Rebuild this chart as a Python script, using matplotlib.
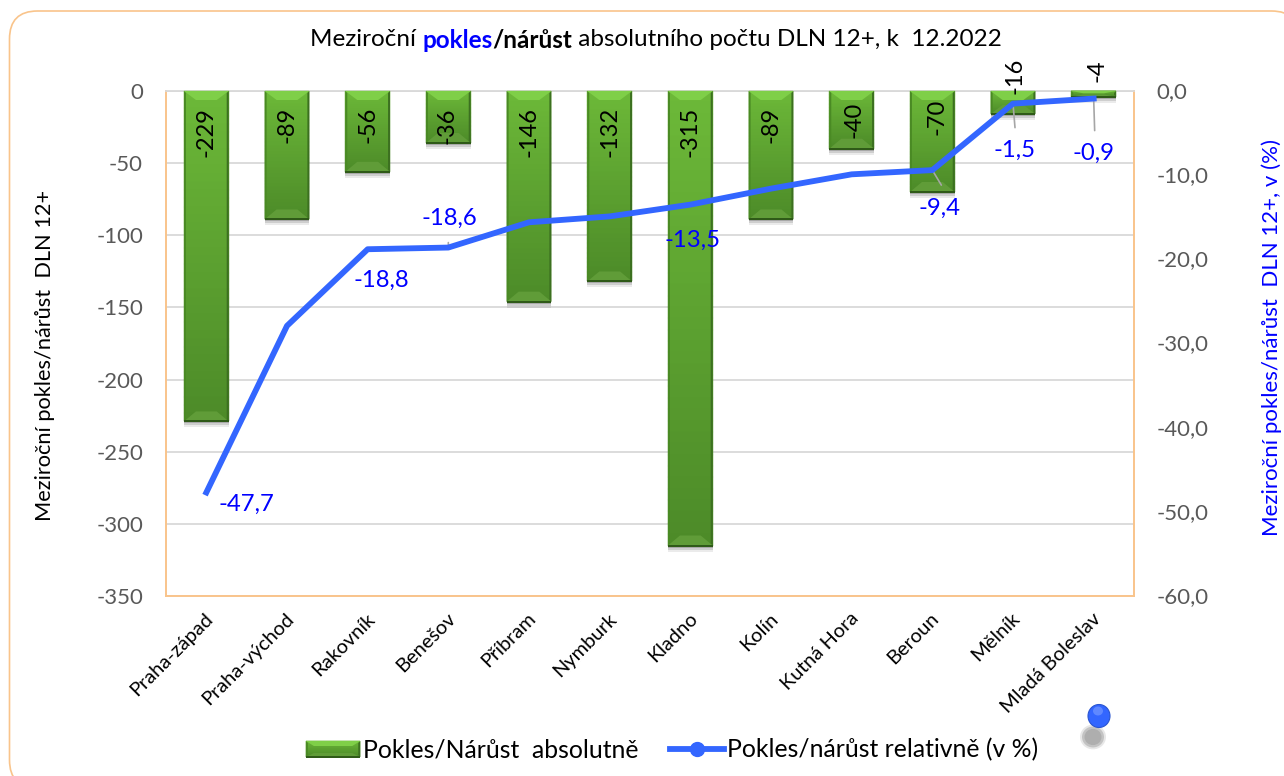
import numpy as np
import matplotlib
matplotlib.use('Agg')
import matplotlib.pyplot as plt
from matplotlib.legend_handler import HandlerLine2D
from matplotlib.lines import Line2D
from matplotlib.patches import FancyBboxPatch, Patch, Polygon, Ellipse
from matplotlib.transforms import IdentityTransform, ScaledTranslation

plt.rcParams['font.family'] = ['Lato', 'DejaVu Sans']
plt.rcParams['axes.unicode_minus'] = False

# data
okresy = ['Praha-západ', 'Praha-východ', 'Rakovník', 'Benešov', 'Příbram', 'Nymburk',
          'Kladno', 'Kolín', 'Kutná Hora', 'Beroun', 'Mělník', 'Mladá Boleslav']
absolutne = [-229, -89, -56, -36, -146, -132, -315, -89, -40, -70, -16, -4]
relativne = [-47.7, -27.9, -18.8, -18.6, -15.6, -14.9, -13.5, -11.6, -9.9, -9.4, -1.5, -0.9]
popisky_rel = {0: '-47,7', 2: '-18,8', 3: '-18,6', 6: '-13,5', 9: '-9,4', 10: '-1,5', 11: '-0,9'}
ticks_abs = [0, -50, -100, -150, -200, -250, -300, -350]
ticks_rel = [0, -10, -20, -30, -40, -50, -60]
ticks_rel_txt = ['0,0', '-10,0', '-20,0', '-30,0', '-40,0', '-50,0', '-60,0']

# posuny popisku v pixelech (x, y od nuly / od bodu)
posun_abs = [(0, -16), (0, -16), (0, -16), (-1, -16), (0, -16), (0, -16), (0, -16), (0, -16),
             (2, -11), (5, -8), (2, 33), (3, 31)]
posun_rel = {0: (40, -12), 2: (14, -31), 3: (1, 29), 6: (2, -36), 9: (7, -38), 10: (2, -47), 11: (0, -55)}
vodice = {3: (0, 5), 9: (9, -15), 10: (2, -24), 11: (1, -32)}

W, H = 1284, 776
MODRA = '#3366FF'
fig = plt.figure(figsize=(W / 100, H / 100), dpi=100)
fig.patch.set_facecolor('white')

# ramecek grafu
ramecek = FancyBboxPatch((9.5, H - 788), 1290, 777, transform=IdentityTransform(),
                         boxstyle='round,pad=0,rounding_size=28',
                         fc='white', ec='#F9C48B', lw=1.2, zorder=-5)
fig.add_artist(ramecek)

ax = fig.add_axes([166 / W, 1 - 596 / H, 968 / W, 505 / H])
ax.patch.set_alpha(0)
x = np.arange(len(okresy))
bars = ax.bar(x, absolutne, width=0.555, color='#5B9E2E', zorder=2)
ax.set_xlim(-0.5, 11.5)
ax.set_ylim(-350, 0)
ax.set_yticks(ticks_abs)
ax.set_xticks(x)
ax.set_xticklabels(okresy, rotation=45, ha='right', rotation_mode='anchor', fontsize=14.4, color='black')
ax.tick_params(axis='both', length=0)
ax.tick_params(axis='y', labelsize=16, labelcolor='#595959', pad=16.5)
ax.tick_params(axis='x', pad=10)
posun = ScaledTranslation(-2 / 100, 0, fig.dpi_scale_trans)
for lbl in ax.get_xticklabels():
    lbl.set_transform(lbl.get_transform() + posun)
ax.grid(axis='y', color='#D9D9D9', lw=1.3, zorder=0)
ax.set_axisbelow(True)
for s in ['left', 'right', 'bottom']:
    ax.spines[s].set_color('#F9C48B')
    ax.spines[s].set_linewidth(1.4)
ax.spines['top'].set_color('#D9D9D9')
ax.spines['top'].set_linewidth(1.3)


def bevel(a, x0, x1, y0, y1, bx, by_top, by_bot, z=3, stin=True):
    # x0..y1 jsou pixely, y1 je horni hrana
    t = IdentityTransform()
    if stin:
        for k, al in [(6, 0.08), (4, 0.12), (2, 0.18)]:
            a.add_patch(Polygon([(x0, y0), (x1, y0), (x1, y0 - k), (x0, y0 - k)],
                                fc='black', ec='none', alpha=al, transform=t, zorder=z, clip_on=False))
    n = 40
    ys = np.linspace(y1, y0, n + 1)
    c_a = np.array(matplotlib.colors.to_rgb('#6CB838'))
    c_b = np.array(matplotlib.colors.to_rgb('#4C8A28'))
    for i in range(n):
        c = c_a + (c_b - c_a) * i / n
        a.add_patch(Polygon([(x0, ys[i]), (x1, ys[i]), (x1, ys[i + 1]), (x0, ys[i + 1])],
                            fc=c, ec=c, lw=0.3, transform=t, zorder=z, clip_on=False))
    a.add_patch(Polygon([(x0, y1), (x1, y1), (x1 - bx, y1 - by_top), (x0 + bx, y1 - by_top)],
                        fc='#7FCF48', ec='none', transform=t, zorder=z, clip_on=False))
    a.add_patch(Polygon([(x0, y0), (x1, y0), (x1 - bx, y0 + by_bot), (x0 + bx, y0 + by_bot)],
                        fc='#609C38', ec='none', transform=t, zorder=z, clip_on=False))
    a.add_patch(Polygon([(x0, y0), (x0, y1), (x0 + 2, y1 - 2), (x0 + 2, y0 + 2)],
                        fc='#4A8A24', ec='none', transform=t, zorder=z, clip_on=False))
    a.add_patch(Polygon([(x1, y0), (x1, y1), (x1 - 2, y1 - 2), (x1 - 2, y0 + 2)],
                        fc='#3C7020', ec='none', transform=t, zorder=z, clip_on=False))
    a.add_patch(Polygon([(x0, y0 - 1), (x1, y0 - 1), (x1, y0 + 1), (x0, y0 + 1)],
                        fc='#2F5A18', ec='none', transform=t, zorder=z, clip_on=False))


for b in bars:
    (px0, py0), (px1, py1) = ax.transData.transform(
        [(b.get_x(), b.get_y() + b.get_height()), (b.get_x() + b.get_width(), b.get_y())])
    vyska = py1 - py0
    bevel(ax, px0, px1, py0, py1, 12, min(9, vyska * 0.4), min(10, vyska * 0.4))

ax2 = ax.twinx()
ax2.patch.set_alpha(0)
ax2.plot(x, relativne, color=MODRA, lw=4.2, solid_joinstyle='round', zorder=5)
ax2.set_ylim(-60, 0)
ax2.set_yticks(ticks_rel)
ax2.set_yticklabels(ticks_rel_txt, fontsize=16, color='#595959')
ax2.tick_params(axis='y', length=0, pad=16)
posun_y = ScaledTranslation(0, 1 / 100, fig.dpi_scale_trans)
for lbl in ax2.get_yticklabels():
    lbl.set_transform(lbl.get_transform() + posun_y)
for s in ax2.spines.values():
    s.set_visible(False)

# popisky sloupcu
for i, v in enumerate(absolutne):
    ax2.annotate(str(v), xy=(i, 0), xytext=posun_abs[i],
                 textcoords='offset pixels', rotation=90, ha='center', va='top',
                 fontsize=17, color='black', zorder=6, annotation_clip=False)

# popisky relativnich hodnot
for i, txt in popisky_rel.items():
    ax2.annotate(txt, xy=(i, relativne[i]), xytext=posun_rel[i], textcoords='offset pixels',
                 ha='center', va='center', fontsize=17.2, color='#0000FF', zorder=6)
    if i in vodice:
        ax2.annotate('', xy=(i, relativne[i]), xytext=vodice[i], textcoords='offset pixels',
                     arrowprops=dict(arrowstyle='-', color='#A6A6A6', lw=1.2, shrinkA=0, shrinkB=0), zorder=4)

# nazvy os
fig.text(45 / W, 1 - 355 / H, 'Meziroční pokles/nárůst  DLN 12+', rotation=90, ha='center', va='center',
         fontsize=15.7, color='black')
fig.text(1272 / W, 1 - 337 / H, 'Meziroční pokles/nárůst  DLN 12+, v (%)', rotation=90, ha='center',
         va='center', fontsize=16, color='#0000FF')

# titulek po castech
casti = [('Meziroční ', 'normal', 'black'), ('pokles', 'bold', '#0000FF'), ('/nárůst', 'bold', 'black'),
         (' absolutního počtu DLN 12+, k  12.2022', 'normal', 'black')]
r = fig.canvas.get_renderer()
tx = 310
for txt, w, c in casti:
    t = fig.text(tx / W, 1 - 40 / H, txt, fontsize=17.5, fontweight=w, color=c, ha='left', va='center')
    # mezery na konci se nemeri, proto sirka s teckou
    t.set_text(txt + '.')
    s1 = t.get_window_extent(r).width
    t.set_text('.')
    s2 = t.get_window_extent(r).width
    t.set_text(txt)
    tx += s1 - s2

# legenda
kl_sloupec = Patch(color='#5B9E2E', label='Pokles/Nárůst  absolutně')
kl_cara = Line2D([], [], color=MODRA, lw=4.2, marker='o', markersize=10, markeredgecolor=MODRA,
                 label='Pokles/nárůst relativně (v %)')
leg = fig.legend(handles=[kl_sloupec, kl_cara], loc='center', bbox_to_anchor=(672 / W, 1 - 750 / H),
                 ncol=2, frameon=False, fontsize=17.8, handlelength=2.2, handletextpad=0.12,
                 columnspacing=1.25, borderpad=0, handler_map={kl_cara: HandlerLine2D(numpoints=1)})
fig.canvas.draw()
klic = leg.get_patches()[0]
bb = klic.get_window_extent(r)
klic.set_visible(False)
bevel(ax2, bb.x0, bb.x1, H - 757, H - 741, 8, 5, 4, z=7, stin=False)

# zatoulana znacka vpravo dole
for d, a in [(26, 0.25), (22, 0.5), (17, 0.6)]:
    fig.add_artist(Ellipse((1093 / W, 1 - 737 / H), d / W, d * 0.95 / H, transform=fig.transFigure,
                           fc='#A0A0A0', ec='none', alpha=a))
fig.add_artist(Ellipse((1099 / W, 1 - 716 / H), 22 / W, 23 / H, transform=fig.transFigure, fc=MODRA, ec='#2A55D0', lw=0.8))
fig.add_artist(Ellipse((1098 / W, 1 - 711 / H), 10 / W, 9 / H, transform=fig.transFigure, fc='#5F88FF', ec='none'))

fig.savefig('out.png', dpi=100)
